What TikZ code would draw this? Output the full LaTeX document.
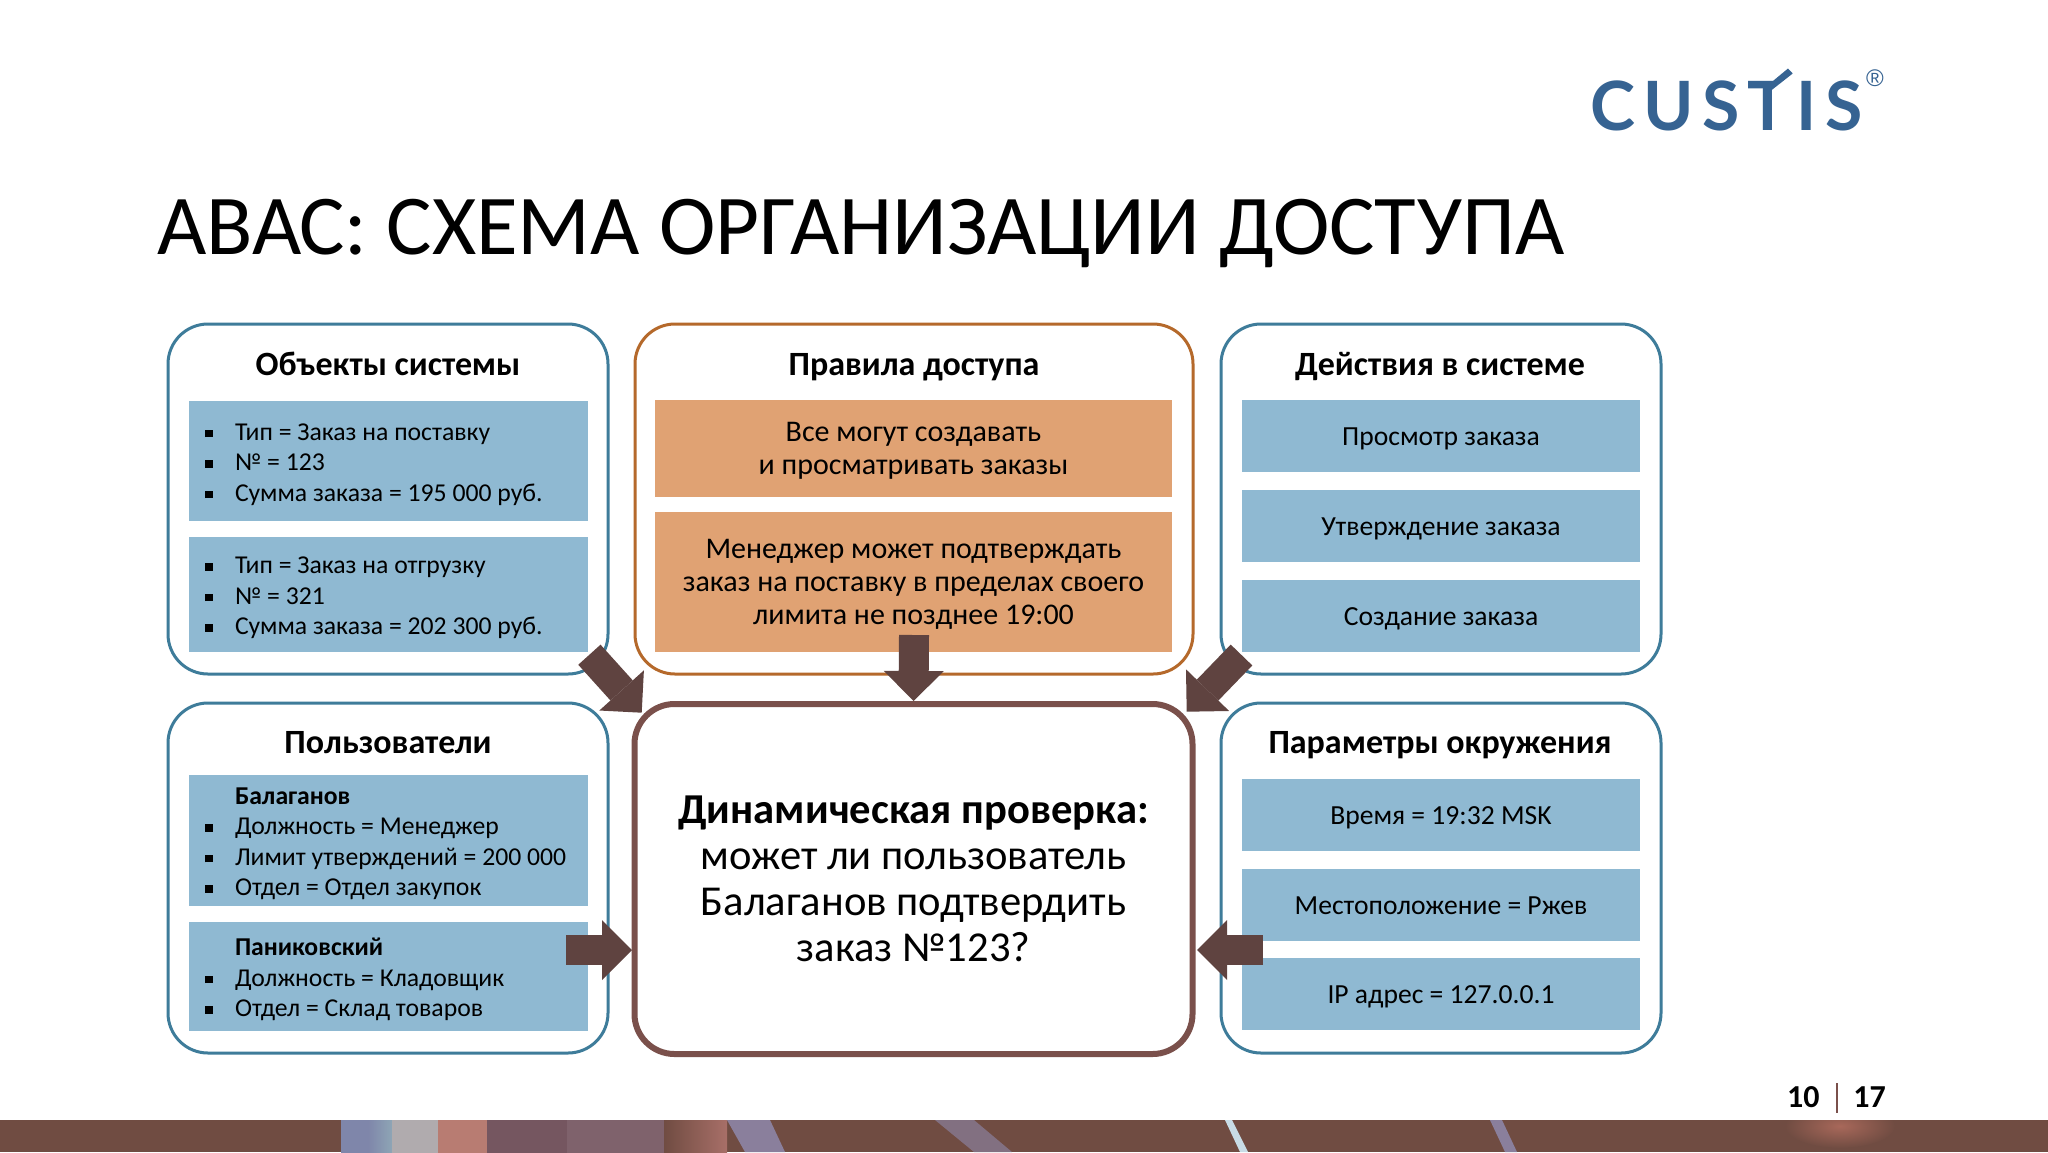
\documentclass[tikz,border=0pt]{standalone}
\usepackage{fontspec}
\setmainfont{Carlito}
\newfontfamily\logofont[LetterSpace=12]{Lato}
\newfontfamily\regfont{Liberation Sans}
\usetikzlibrary{arrows.meta}
\definecolor{boxblue}{HTML}{3E7C9A}
\definecolor{fillblue}{HTML}{8FB9D2}
\definecolor{boxorange}{HTML}{B5692B}
\definecolor{fillorange}{HTML}{E0A273}
\definecolor{boxbrown}{HTML}{7A504B}
\definecolor{arrowbrown}{HTML}{5F4340}
\definecolor{bandbrown}{HTML}{704C42}
\definecolor{logoblue}{HTML}{366392}
\definecolor{streakviolet}{HTML}{7F86AA}
\definecolor{streakteal}{HTML}{8EA5B5}
\definecolor{streakgrey}{HTML}{B0ABAE}
\definecolor{streakpink}{HTML}{B87C72}
\definecolor{streakmauve}{HTML}{755660}
\definecolor{streakplum}{HTML}{7F626C}
\definecolor{streakrose}{HTML}{A86F68}
\definecolor{streakslate}{HTML}{8A7F9C}
\definecolor{streakwhite}{HTML}{C8DCE6}
\definecolor{glowrose}{HTML}{A8685A}
\newcommand{\li}[1]{\hspace*{19pt}\llap{\rule[1.5pt]{3.8pt}{3.8pt}\hspace{11pt}}#1}
\newcommand{\hd}[1]{\hspace*{19pt}\textbf{#1}}
\tikzset{
  panel/.style={draw=#1,line width=1.5pt,rounded corners=20pt,fill=white,inner sep=0pt},
  paneltitle/.style={anchor=base,font=\fontsize{17}{19}\selectfont\bfseries,inner sep=0pt},
  listbox/.style={fill=fillblue,inner ysep=0pt,inner xsep=4pt,text width=191.5pt,align=flush left,
    font=\fontsize{12.85}{15.25}\selectfont,execute at begin node={\rule{0pt}{11.7pt}}},
  linebox/.style={fill=fillblue,inner sep=0pt,align=center,minimum width=199pt,minimum height=36pt,
    font=\fontsize{13.8}{16.3}\selectfont,execute at begin node={\rule[-4pt]{0pt}{17.5pt}}},
  rulebox/.style={fill=fillorange,inner sep=0pt,text width=258.5pt,align=flush center,
    font=\fontsize{15}{16.3}\selectfont,execute at begin node={\rule{0pt}{12pt}}},
  blockarrow/.style={draw=arrowbrown,line width=15pt,line cap=butt,
    -{Triangle[length=15pt,width=30pt,line width=0pt]}}
}
\begin{document}
\begin{tikzpicture}[x=0.5pt,y=-0.5pt]
    \useasboundingbox (0,0) rectangle (2048,1152);
    \fill[white] (0,0) rectangle (2048,1152);
    % panels
    \foreach \name/\xa/\ya/\xb/\yb/\col in {objpanel/168/324/608/674/boxblue, rulepanel/635/324/1193/674/boxorange,
      actpanel/1221/324/1661/674/boxblue, userpanel/168/703/608/1053/boxblue, envpanel/1221/703/1661/1053/boxblue} {
      \draw[panel=\col] (\xa,\ya) rectangle (\xb,\yb);
    }
    \node[paneltitle] (objtitle) at (388,375) {Объекты системы};
    \node[paneltitle] (ruletitle) at (914,375) {Правила доступа};
    \node[paneltitle] (acttitle) at (1440,375) {Действия в системе};
    \node[paneltitle] (usertitle) at (388,753) {Пользователи};
    \node[paneltitle] (envtitle) at (1440,753) {Параметры окружения};
    % lists
    \node[listbox,minimum height=60pt] (order1) at (388.5,461) {\li{Тип = Заказ на поставку}\\\li{№ = 123}\\\li{Сумма заказа = 195 000 руб.}};
    \node[listbox,minimum height=57.5pt] (order2) at (388.5,594.5) {\li{Тип = Заказ на отгрузку}\\\li{№ = 321}\\\li{Сумма заказа = 202 300 руб.}};
    \node[listbox,minimum height=65.5pt] (user1) at (388.5,840.5) {\hd{Балаганов}\\\li{Должность = Менеджер}\\\li{Лимит утверждений = 200 000}\\\li{Отдел = Отдел закупок}};
    \node[listbox,minimum height=54.5pt] (user2) at (388.5,976.5) {\hd{Паниковский}\\\li{Должность = Кладовщик}\\\li{Отдел = Склад товаров}};
    \node[rulebox,minimum height=48.5pt] (rule1) at (913.5,448.5) {Все могут создавать\\и просматривать заказы};
    \node[rulebox,minimum height=70pt] (rule2) at (913.5,582) {Менеджер может подтверждать\\заказ на поставку в пределах своего\\лимита не позднее 19:00};
    \foreach \name/\x/\y/\txt in {act1/1441/436/Просмотр заказа, act2/1441/526/Утверждение заказа, act3/1441/616/Создание заказа,
      env1/1441/815/Время = 19:32 MSK, env2/1441/905/Местоположение = Ржев, env3/1441/994/IP адрес = 127.0.0.1} {
      \node[linebox] (\name) at (\x,\y) {\txt};
    }
    % center
    \node[draw=boxbrown,line width=3pt,rounded corners=20pt,fill=white,minimum width=279pt,minimum height=175pt,
      align=center,inner sep=0pt,font=\fontsize{21.3}{22.9}\selectfont] (check) at (913.5,879)
      {\textbf{Динамическая проверка:}\\может ли пользователь\\Балаганов подтвердить\\заказ №123?};
    % arrows
    \coordinate (objtail) at (589.4,654.7);
    \coordinate (objtip) at (641.7,712.7);
    \coordinate (ruletail) at (914,635);
    \coordinate (acttail) at (1241.5,655);
    \coordinate (acttip) at (1186.7,711.7);
    \coordinate (usertail) at (566,950);
    \coordinate (usertip) at (632,950);
    \coordinate (envtail) at (1263,950);
    \coordinate (envtip) at (1197,950);
    \draw[blockarrow] (objtail) -- (objtip);
    \draw[blockarrow] (ruletail) -- (check.north);
    \draw[blockarrow] (acttail) -- (acttip);
    \draw[blockarrow] (usertail) -- (usertip);
    \draw[blockarrow] (envtail) -- (envtip);
    % header
    \node[anchor=base west,inner sep=0pt,font=\fontsize{42.6}{48}\selectfont] (title) at (157,254) {АВАС: СХЕМА ОРГАНИЗАЦИИ ДОСТУПА};
    \node[anchor=base west,inner sep=0pt,text=logoblue,font=\fontsize{34}{40}\logofont\bfseries] (logo) at (1590,130) {CUSTIS};
    \node[inner sep=0pt,text=logoblue,font=\fontsize{12}{12}\regfont] (regmark) at (1875,78) {®};
    % logo: slanted arm of the T
    \fill[white] (1773,78) rectangle (1792,91);
    \fill[logoblue] (1771.7,82) -- (1788,68.5) -- (1792.7,73.5) -- (1771.7,90) -- cycle;
    % footer
    \fill[bandbrown] (0,1120) rectangle (2048,1152);
    \foreach \xa/\xb/\cola/\colb in {341/368/streakviolet/streakviolet, 368/392/streakviolet/streakteal, 392/438/streakgrey/streakgrey,
      438/487/streakpink/streakpink, 487/567/streakmauve/streakmauve, 567/664/streakplum/streakplum, 664/727/bandbrown/streakrose} {
      \shade[left color=\cola,right color=\colb] (\xa,1120) rectangle (\xb,1152);
    }
    \fill[streakslate] (727,1120) -- (770,1120) -- (785,1152) -- (745,1152) -- cycle;
    \fill[streakslate!70!bandbrown] (935,1120) -- (974,1120) -- (1012,1152) -- (974,1152) -- cycle;
    \fill[streakwhite] (1225,1120) -- (1232,1120) -- (1248,1152) -- (1240,1152) -- cycle;
    \fill[streakslate] (1490,1120) -- (1502,1120) -- (1517,1152) -- (1505,1152) -- cycle;
    \begin{scope}
      \clip (1780,1120) rectangle (1900,1152);
      \shade[inner color=glowrose,outer color=bandbrown] (1840,1126) ellipse (55 and 22);
    \end{scope}
    \node[anchor=base east,inner sep=0pt,font=\fontsize{16}{19}\selectfont\bfseries] (pagecur) at (1820,1107) {10};
    \node[anchor=base west,inner sep=0pt,font=\fontsize{16}{19}\selectfont\bfseries] (pagetot) at (1853,1107) {17};
    \draw[boxbrown,line width=0.8pt] (1837,1083) -- (1837,1113);
\end{tikzpicture}
\end{document}
